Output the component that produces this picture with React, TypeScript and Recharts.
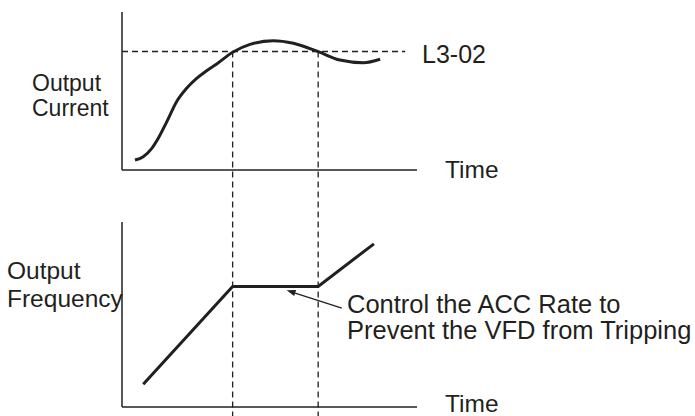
import React from "react";
import { LineChart, Line, XAxis, YAxis, ReferenceLine } from "recharts";

// output current (top panel), time in % of the axis length
const currentTime = [4.4, 7.2, 10.1, 12.3, 15.2, 18.5, 21.9, 25.3, 28.7, 32.1, 37.5, 43.4, 51.3, 58.1, 66.5, 73.9, 81.8, 87.5];
const currentValue = [6.3, 8.4, 13.7, 20.1, 30.6, 43.2, 51.7, 58.0, 62.8, 67.1, 74.5, 79.5, 81.8, 80.2, 74.9, 69.6, 67.9, 70.1];

// output frequency (bottom panel)
const freqTime = [7.2, 37.5, 66.5, 85.4];
const freqValue = [12.3, 65.2, 65.2, 88.2];

// stall level and the window where it is exceeded
const L302 = 75;
const l302End = 96;
const stallTimes = [37.5, 66.5];

// arrow pointing at the flat part
const arrowFrom = { x: 74.5, y: 53.5 };
const arrowTo = { x: 55.8, y: 63.1 };

const currentData = currentTime.map((t, i) => ({ t, v: currentValue[i] }));
const freqData = freqTime.map((t, i) => ({ t, v: freqValue[i] }));

const W = 695;
const H = 416;
const PLOT_LEFT = 122;
const PLOT_RIGHT = 417;
const CUR_TOP = 12;
const CUR_BOTTOM = 170;
const FREQ_TOP = 222;
const FREQ_BOTTOM = 407;

const INK = "#231f20";
const FONT = '"Liberation Sans", Arial, Helvetica, sans-serif';

// current value that lands on the bottom edge of the picture
const dashBottom = ((CUR_BOTTOM - H) / (CUR_BOTTOM - CUR_TOP)) * 100;

function Label({ x, baseline, size, gap, lines }: { x: number; baseline: number; size: number; gap?: number; lines: string[] }) {
  const lh = gap ?? size;
  return (
    <div
      style={{
        position: "absolute",
        left: x,
        top: baseline - 0.8465 * size - (lh - size) / 2,
        fontSize: size,
        lineHeight: `${lh}px`,
        fontFamily: FONT,
        color: INK,
        whiteSpace: "nowrap",
      }}
    >
      {lines.map((s, i) => (
        <React.Fragment key={i}>
          {i > 0 && <br />}
          {s}
        </React.Fragment>
      ))}
    </div>
  );
}

function Arrow(props: any) {
  const { x1, y1, x2, y2 } = props;
  const a = Math.atan2(y2 - y1, x2 - x1);
  const len = 9;
  const half = 3.2;
  const bx = x2 - len * Math.cos(a);
  const by = y2 - len * Math.sin(a);
  const px = -Math.sin(a) * half;
  const py = Math.cos(a) * half;
  return (
    <g>
      <line x1={x1} y1={y1} x2={bx} y2={by} stroke={INK} strokeWidth={1.3} />
      <polygon points={`${x2},${y2} ${bx + px},${by + py} ${bx - px},${by - py}`} fill={INK} />
    </g>
  );
}

const layer: React.CSSProperties = { position: "absolute", left: 0, top: 0 };

export default function App() {
  const axisLine = { stroke: INK, strokeWidth: 1.5, ifOverflow: "visible" as const };
  return (
    <div style={{ position: "absolute", left: 0, top: 0, width: W, height: H, background: "#fff" }}>
      <div style={layer}>
        <LineChart
          width={W}
          height={H}
          data={currentData}
          margin={{ top: CUR_TOP, bottom: H - CUR_BOTTOM, left: PLOT_LEFT, right: W - PLOT_RIGHT }}
        >
          <XAxis dataKey="t" type="number" domain={[0, 100]} hide />
          <YAxis type="number" domain={[0, 100]} hide />
          <ReferenceLine x={0} {...axisLine} />
          <ReferenceLine y={0} {...axisLine} />
          <ReferenceLine
            segment={[{ x: 0, y: L302 }, { x: l302End, y: L302 }]}
            stroke={INK}
            strokeWidth={1.3}
            strokeDasharray="6 4"
            ifOverflow="visible"
          />
          {stallTimes.map((t) => (
            <ReferenceLine
              key={t}
              segment={[{ x: t, y: L302 }, { x: t, y: dashBottom }]}
              stroke={INK}
              strokeWidth={1.3}
              strokeDasharray="6 4"
              ifOverflow="visible"
            />
          ))}
          <Line type="monotone" dataKey="v" stroke={INK} strokeWidth={3} dot={false} isAnimationActive={false} />
        </LineChart>
      </div>
      <div style={layer}>
        <LineChart
          width={W}
          height={H}
          data={freqData}
          margin={{ top: FREQ_TOP, bottom: H - FREQ_BOTTOM, left: PLOT_LEFT, right: W - PLOT_RIGHT }}
        >
          <XAxis dataKey="t" type="number" domain={[0, 100]} hide />
          <YAxis type="number" domain={[0, 100]} hide />
          <ReferenceLine x={0} {...axisLine} />
          <ReferenceLine y={0} {...axisLine} />
          <ReferenceLine segment={[arrowFrom, arrowTo]} ifOverflow="visible" shape={Arrow} />
          <Line type="linear" dataKey="v" stroke={INK} strokeWidth={3} dot={false} isAnimationActive={false} />
        </LineChart>
      </div>

      <Label x={32} baseline={91} size={23} gap={25} lines={["Output", "Current"]} />
      <Label x={7} baseline={279} size={24.5} gap={28} lines={["Output", "Frequency"]} />
      <Label x={422} baseline={63} size={25} lines={["L3-02"]} />
      <Label x={445} baseline={179} size={24.5} lines={["Time"]} />
      <Label x={445} baseline={413} size={24.5} lines={["Time"]} />
      <Label x={347} baseline={313} size={25.5} gap={26} lines={["Control the ACC Rate to", "Prevent the VFD from Tripping"]} />
    </div>
  );
}
